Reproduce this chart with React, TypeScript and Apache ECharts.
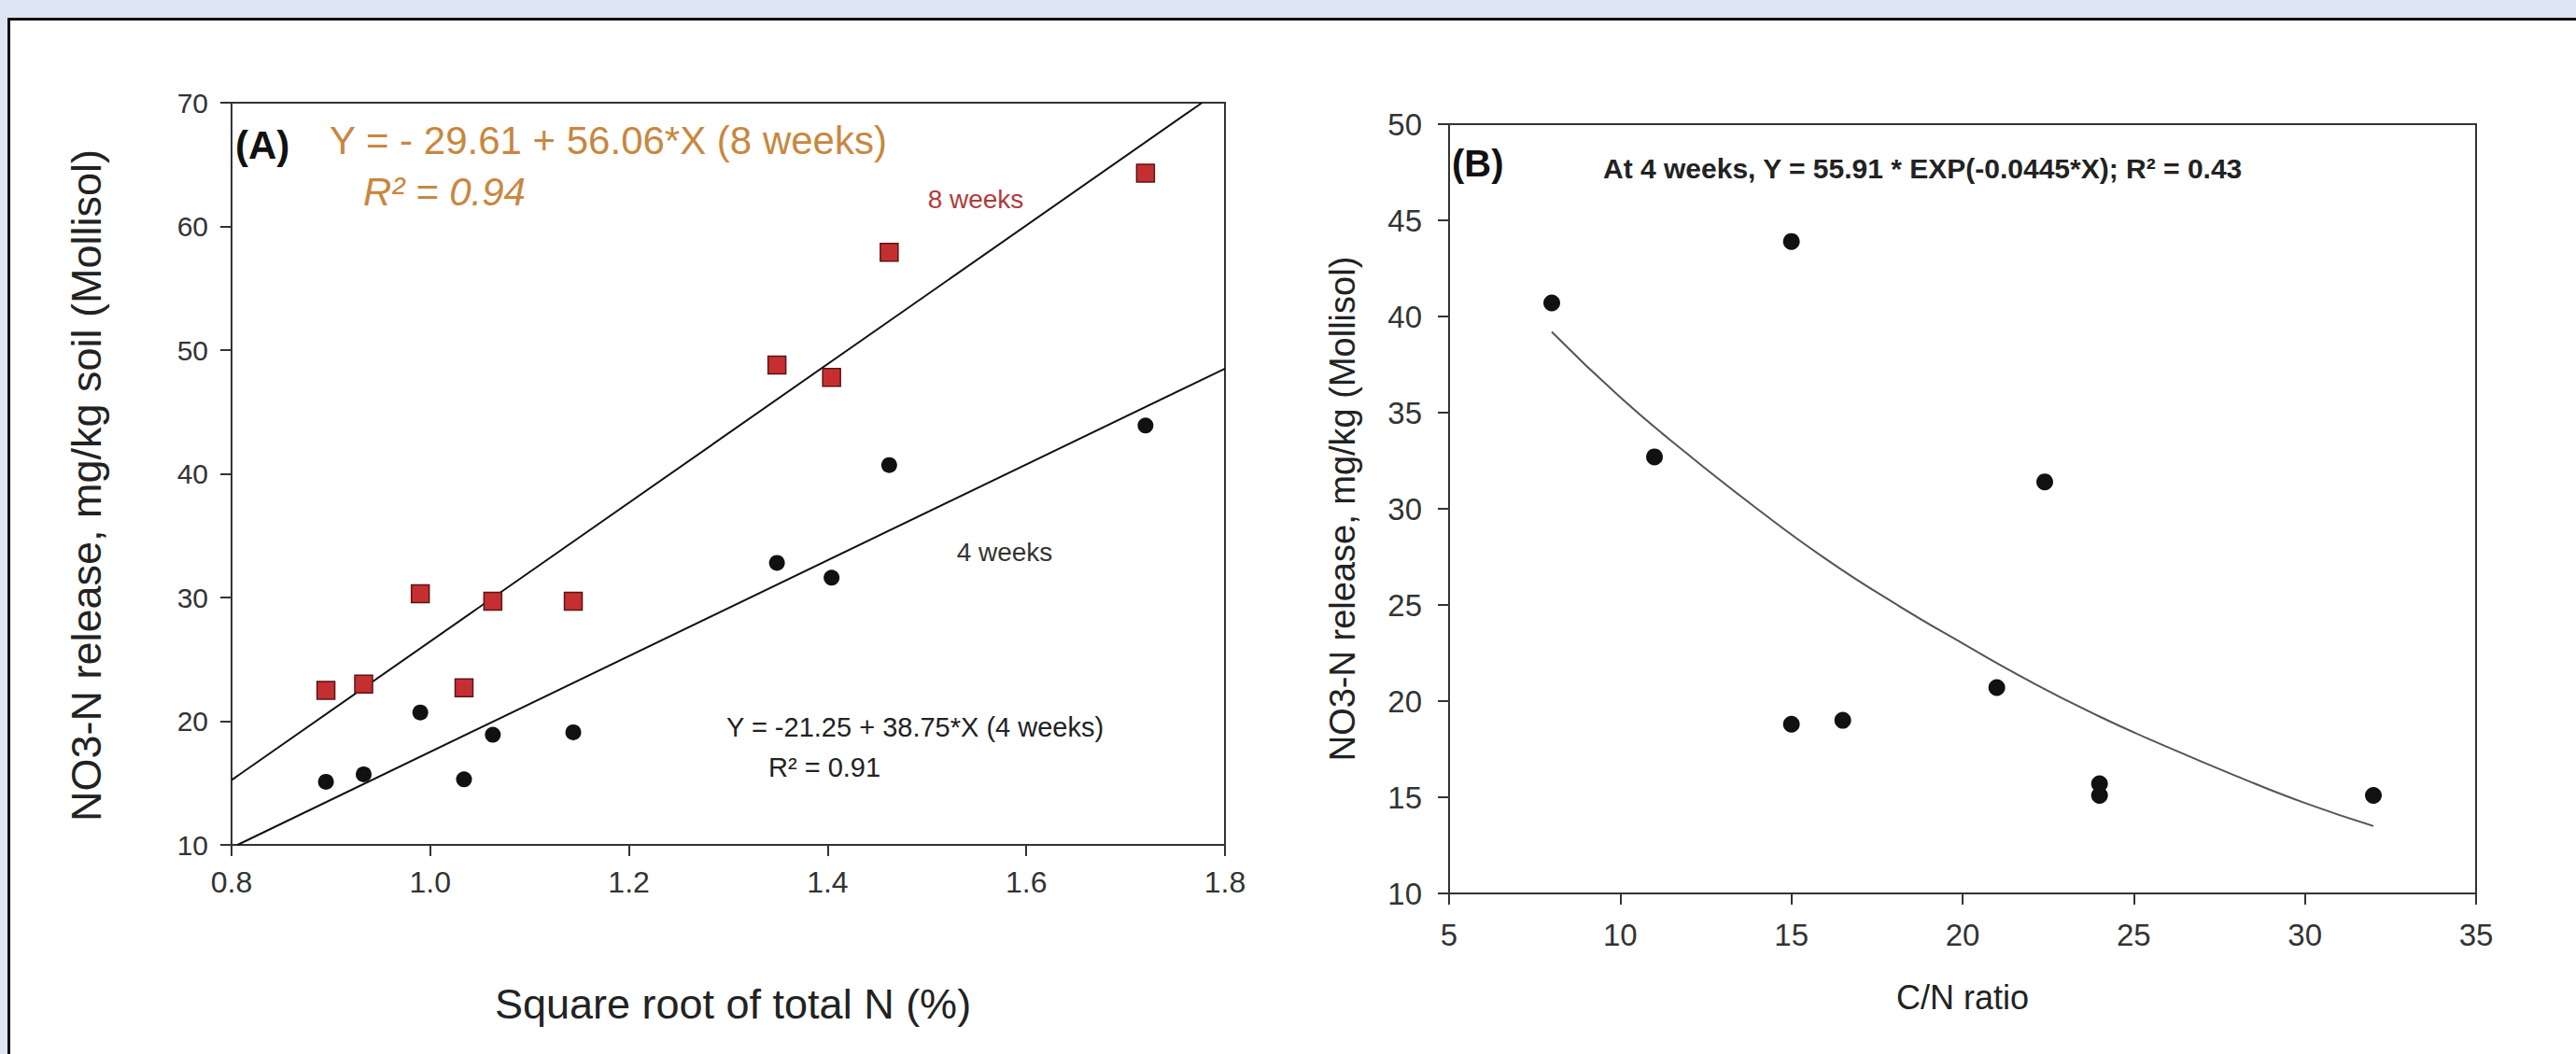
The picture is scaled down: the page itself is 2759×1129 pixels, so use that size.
import React, { useEffect, useRef } from "react";
import * as echarts from "echarts";

// ---------- Panel A data ----------
const sqrtTotalN = [0.895, 0.933, 0.99, 1.034, 1.063, 1.144, 1.349, 1.404, 1.462, 1.72];
const no3Weeks4 = [15.1, 15.7, 20.7, 15.3, 18.9, 19.1, 32.8, 31.6, 40.7, 43.9];
const no3Weeks8 = [22.5, 23.0, 30.3, 22.7, 29.7, 29.7, 48.8, 47.8, 57.9, 64.3];
const fit8X = [0.8, 1.777];
const fit8Y = [15.24, 70];
const fit4X = [0.806, 1.8];
const fit4Y = [10, 48.5];
const xTicksA = { min: 0.8, max: 1.8, interval: 0.2 };
const yTicksA = { min: 10, max: 70, interval: 10 };

// ---------- Panel B data ----------
const cnRatio = [8, 11, 15, 15, 16.5, 21, 22.4, 24, 24, 32];
const no3B = [40.7, 32.7, 43.9, 18.8, 19.0, 20.7, 31.4, 15.7, 15.1, 15.1];
const fitBX = [8, 10, 12, 14, 16, 18, 20, 22, 24, 26, 28, 30, 32];
const fitBY = [39.2, 35.8, 32.8, 30.0, 27.4, 25.1, 23.0, 21.0, 19.2, 17.6, 16.1, 14.7, 13.5];
const xTicksB = { min: 5, max: 35, interval: 5 };
const yTicksB = { min: 10, max: 50, interval: 5 };

const pair = (xs: number[], ys: number[]) => xs.map((x, i) => [x, ys[i]]);

const NARROW = "'Liberation Sans Narrow', 'Arial Narrow', 'Liberation Sans', Arial, sans-serif";
const SANS = "'Liberation Sans', Arial, sans-serif";
const AX = "#333";

function txt(text: string, x: number, y: number, opts: any = {}) {
  const { size = 30, family = SANS, weight = "normal", style = "normal", color = "#222", align = "left", rotation = 0 } = opts;
  return {
    type: "text",
    x,
    y,
    rotation,
    z: 10,
    style: {
      text,
      fill: color,
      font: `${style} ${weight} ${size}px ${family}`,
      textAlign: align,
      align,
      textVerticalAlign: "middle",
      verticalAlign: "middle",
    },
  };
}

function axisCommon(fontSize: number, margin: number) {
  return {
    type: "value",
    splitLine: { show: false },
    axisLine: { show: true, onZero: false, lineStyle: { color: AX, width: 2 } },
    axisTick: { show: true, inside: false, length: 12, lineStyle: { color: AX, width: 2 } },
    axisLabel: { fontFamily: NARROW, fontSize, color: "#333", margin },
  };
}

export default function App() {
  const ref = useRef<HTMLDivElement>(null);
  useEffect(() => {
    document.body.style.margin = "0";
    if (!ref.current) return;
    const chart = echarts.init(ref.current, undefined, { renderer: "svg" });
    const option: any = {
      animation: false,
      grid: [
        { left: 248, top: 110, width: 1064, height: 795, show: true, borderColor: AX, borderWidth: 2, backgroundColor: "transparent" },
        { left: 1552, top: 133, width: 1100, height: 824, show: true, borderColor: AX, borderWidth: 2, backgroundColor: "transparent" },
      ],
      xAxis: [
        {
          ...axisCommon(32, 24),
          gridIndex: 0,
          ...xTicksA,
          axisLabel: { ...axisCommon(32, 24).axisLabel, formatter: (v: number) => v.toFixed(1) },
        },
        { ...axisCommon(33, 28), gridIndex: 1, ...xTicksB },
      ],
      yAxis: [
        { ...axisCommon(30, 25), gridIndex: 0, ...yTicksA },
        { ...axisCommon(33, 29), gridIndex: 1, ...yTicksB },
      ],
      series: [
        {
          type: "line", xAxisIndex: 0, yAxisIndex: 0, data: pair(fit8X, fit8Y), showSymbol: false,
          lineStyle: { color: "#111", width: 2 }, z: 2, silent: true,
        },
        {
          type: "line", xAxisIndex: 0, yAxisIndex: 0, data: pair(fit4X, fit4Y), showSymbol: false,
          lineStyle: { color: "#111", width: 2 }, z: 2, silent: true,
        },
        {
          type: "scatter", xAxisIndex: 0, yAxisIndex: 0, data: pair(sqrtTotalN, no3Weeks8), symbol: "rect", symbolSize: 19,
          itemStyle: { color: "#c62f30", borderColor: "#5a1414", borderWidth: 1.5, opacity: 1 }, z: 4,
        },
        {
          type: "scatter", xAxisIndex: 0, yAxisIndex: 0, data: pair(sqrtTotalN, no3Weeks4), symbol: "circle", symbolSize: 17,
          itemStyle: { color: "#111", opacity: 1 }, z: 4,
        },
        {
          type: "line", xAxisIndex: 1, yAxisIndex: 1, data: pair(fitBX, fitBY), showSymbol: false, smooth: true,
          lineStyle: { color: "#555", width: 2 }, z: 2, silent: true,
        },
        {
          type: "scatter", xAxisIndex: 1, yAxisIndex: 1, data: pair(cnRatio, no3B), symbol: "circle", symbolSize: 18,
          itemStyle: { color: "#111", opacity: 1 }, z: 4,
        },
      ],
      graphic: [
        // Panel A texts
        txt("(A)", 252, 155, { size: 42, family: NARROW, weight: "bold", color: "#111" }),
        txt("Y = - 29.61 + 56.06*X (8 weeks)", 353, 150, { size: 42, color: "#c8873f" }),
        txt("R² = 0.94", 389, 205, { size: 42, style: "italic", color: "#c8873f" }),
        txt("8 weeks", 1045, 213, { size: 28, color: "#b03a3a", align: "center" }),
        txt("4 weeks", 1076, 591, { size: 28, color: "#333", align: "center" }),
        txt("Y = -21.25 + 38.75*X (4 weeks)", 778, 779, { size: 29, color: "#222" }),
        txt("R² = 0.91", 823, 822, { size: 29, color: "#222" }),
        txt("NO3-N release, mg/kg soil (Mollisol)", 92, 520, { size: 45, align: "center", rotation: Math.PI / 2 }),
        txt("Square root of total N (%)", 785, 1075, { size: 45, align: "center" }),
        // Panel B texts
        txt("(B)", 1555, 175, { size: 40, weight: "bold", color: "#111" }),
        txt("At 4 weeks, Y = 55.91 * EXP(-0.0445*X); R² = 0.43", 1717, 180, { size: 30, weight: "bold", color: "#222" }),
        txt("NO3-N release, mg/kg (Mollisol)", 1438, 545, { size: 38, align: "center", rotation: Math.PI / 2 }),
        txt("C/N ratio", 2102, 1068, { size: 36, align: "center" }),
      ],
    };
    chart.setOption(option);
    return () => chart.dispose();
  }, []);

  return (
    <div style={{ position: "fixed", left: 0, top: 0, width: 2759, height: 1129, background: "#dce5f1", overflow: "hidden" }}>
      <div
        style={{
          position: "absolute", left: 8, top: 19, width: 2751, height: 1110, background: "#fff",
          borderTop: "3px solid #111", borderLeft: "3px solid #111", boxSizing: "border-box",
        }}
      />
      <div ref={ref} style={{ position: "absolute", left: 0, top: 0, width: 2759, height: 1129 }} />
    </div>
  );
}
